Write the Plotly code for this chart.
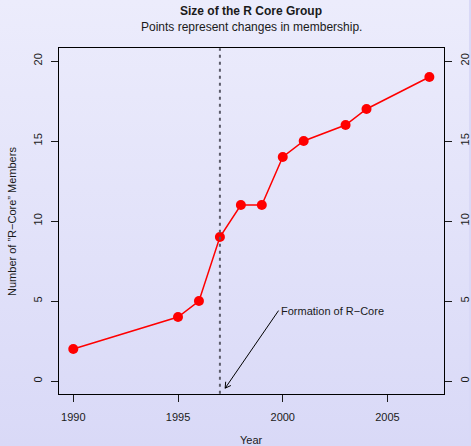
import math
import plotly.graph_objects as go

# Size of the R core group over time
years = [1990, 1995, 1996, 1997, 1998, 1999, 2000, 2001, 2003, 2004, 2007]
members = [2, 4, 5, 9, 11, 11, 14, 15, 16, 17, 19]
x_ticks = [1990, 1995, 2000, 2005]
y_ticks = [0, 5, 10, 15, 20]
formation_year = 1997

W, H = 471, 446
FONT = "Liberation Sans, Arial, sans-serif"
INK = "#1a1a1a"
BG_TOP, BG_BOTTOM = "#ECECFC", "#D9D9F7"

# R-style axis ranges: data range padded by 4% on each side
x_lo, x_hi = min(years), max(years)
x_pad = 0.04 * (x_hi - x_lo)
y_lo, y_hi = 0, 20
y_pad = 0.04 * (y_hi - y_lo)
x_range = [x_lo - x_pad, x_hi + x_pad]
y_range = [y_lo - y_pad, y_hi + y_pad]

# Plot region in pixels (margins are zero, so paper == window)
left, right, top, bottom = 59.3, 445.5, 48.2, 393.8
x_dom = [left / W, right / W]
y_dom = [1 - bottom / H, 1 - top / H]

fig = go.Figure()

# Soft vertical gradient behind everything, on the first (bottom-most) axis pair
fig.add_trace(go.Scatter(
    x=[0, 1, 1, 0, 0], y=[0, 0, 1, 1, 0], xaxis="x", yaxis="y",
    mode="lines", line=dict(width=0), fill="toself",
    fillgradient=dict(type="vertical",
                      colorscale=[[0, BG_BOTTOM], [1, BG_TOP]]),
    hoverinfo="skip", showlegend=False,
))

fig.add_trace(go.Scatter(
    x=years, y=members, mode="lines+markers", xaxis="x2", yaxis="y2",
    line=dict(color="#FF0000", width=1.5),
    marker=dict(color="#FF0000", size=10, line=dict(width=0)),
    showlegend=False,
))

# Mirror trace so the right-hand y axis is drawn
fig.add_trace(go.Scatter(x=[years[0]], y=[members[0]], xaxis="x2", yaxis="y3",
                         mode="markers", marker=dict(opacity=0),
                         hoverinfo="skip", showlegend=False))

axis_font = dict(family=FONT, size=11, color=INK)
fig.update_layout(
    width=W, height=H,
    margin=dict(l=0, r=0, t=0, b=0),
    paper_bgcolor=BG_BOTTOM, plot_bgcolor="rgba(0,0,0,0)",
    xaxis=dict(domain=[0, 1], range=[0, 1], visible=False, anchor="y",
               fixedrange=True),
    yaxis=dict(domain=[0, 1], range=[0, 1], visible=False, anchor="x",
               fixedrange=True),
    xaxis2=dict(domain=x_dom, range=x_range, tickvals=x_ticks,
                ticks="outside", ticklen=7, tickwidth=1, tickcolor=INK,
                showline=True, linecolor="black", linewidth=1.2, mirror=True,
                showgrid=False, zeroline=False, tickfont=axis_font,
                ticklabelstandoff=6, anchor="y2"),
    yaxis2=dict(domain=y_dom, range=y_range, tickvals=y_ticks,
                ticks="outside", ticklen=7, tickwidth=1, tickcolor=INK,
                showline=True, linecolor="black", linewidth=1.2, mirror=True,
                showgrid=False, zeroline=False, tickfont=axis_font,
                tickangle=-90, ticklabelstandoff=5, anchor="x2"),
    yaxis3=dict(domain=y_dom, range=y_range, tickvals=y_ticks,
                overlaying="y2", side="right", anchor="x2",
                ticks="outside", ticklen=7, tickwidth=1, tickcolor=INK,
                showline=False, showgrid=False, zeroline=False,
                tickfont=axis_font, tickangle=-90, ticklabelstandoff=4),
)

# Vertical dashed marker at the formation year
fig.add_shape(type="line", x0=formation_year, x1=formation_year,
              xref="x2", y0=0, y1=1, yref="y2 domain",
              line=dict(color="#5c5c6a", width=2, dash="3px,4px"))

# Titles and axis labels
centre_x = (left + right) / 2 / W
label_kw = dict(xref="paper", yref="paper", showarrow=False,
                xanchor="center", yanchor="middle")
fig.add_annotation(text="<b>Size of the R Core Group</b>", x=centre_x,
                   y=1 - 11 / H, font=dict(family=FONT, size=12, color=INK),
                   **label_kw)
fig.add_annotation(text="Points represent changes in membership.",
                   x=centre_x, y=1 - 27 / H,
                   font=dict(family=FONT, size=12, color=INK), **label_kw)
fig.add_annotation(text="Year", x=centre_x, y=1 - 440 / H, font=axis_font,
                   **label_kw)
fig.add_annotation(text="Number of \u201dR\u2212Core\u201d Members", x=12 / W,
                   y=1 - (top + bottom) / 2 / H, textangle=-90,
                   font=axis_font, **label_kw)

# Labelled arrow pointing at the formation year
head_x, head_y = 1997.25, -0.45
tail_x, tail_y = 1999.8, 4.4
fig.add_annotation(text="Formation of R\u2212Core", x=head_x, y=head_y,
                   xref="x2", yref="y2",
                   ax=tail_x, ay=tail_y, axref="x2", ayref="y2",
                   xanchor="left", yanchor="middle",
                   showarrow=True, arrowhead=0, arrowwidth=1,
                   arrowcolor="black", standoff=0, startstandoff=0,
                   font=axis_font)

# Open "V" arrow head made of two short strokes
px_per_x = (right - left) / (x_range[1] - x_range[0])
px_per_y = (bottom - top) / (y_range[1] - y_range[0])
dx = (tail_x - head_x) * px_per_x
dy = -(tail_y - head_y) * px_per_y
norm = math.hypot(dx, dy)
ux, uy = dx / norm, dy / norm
for ang in (math.radians(30), math.radians(-30)):
    rx = ux * math.cos(ang) - uy * math.sin(ang)
    ry = ux * math.sin(ang) + uy * math.cos(ang)
    fig.add_annotation(text="", x=head_x, y=head_y, xref="x2", yref="y2",
                       ax=rx * 8, ay=ry * 8,
                       showarrow=True, arrowhead=0, arrowwidth=1,
                       arrowcolor="black", standoff=0, startstandoff=0)

fig.write_html("out.html")
